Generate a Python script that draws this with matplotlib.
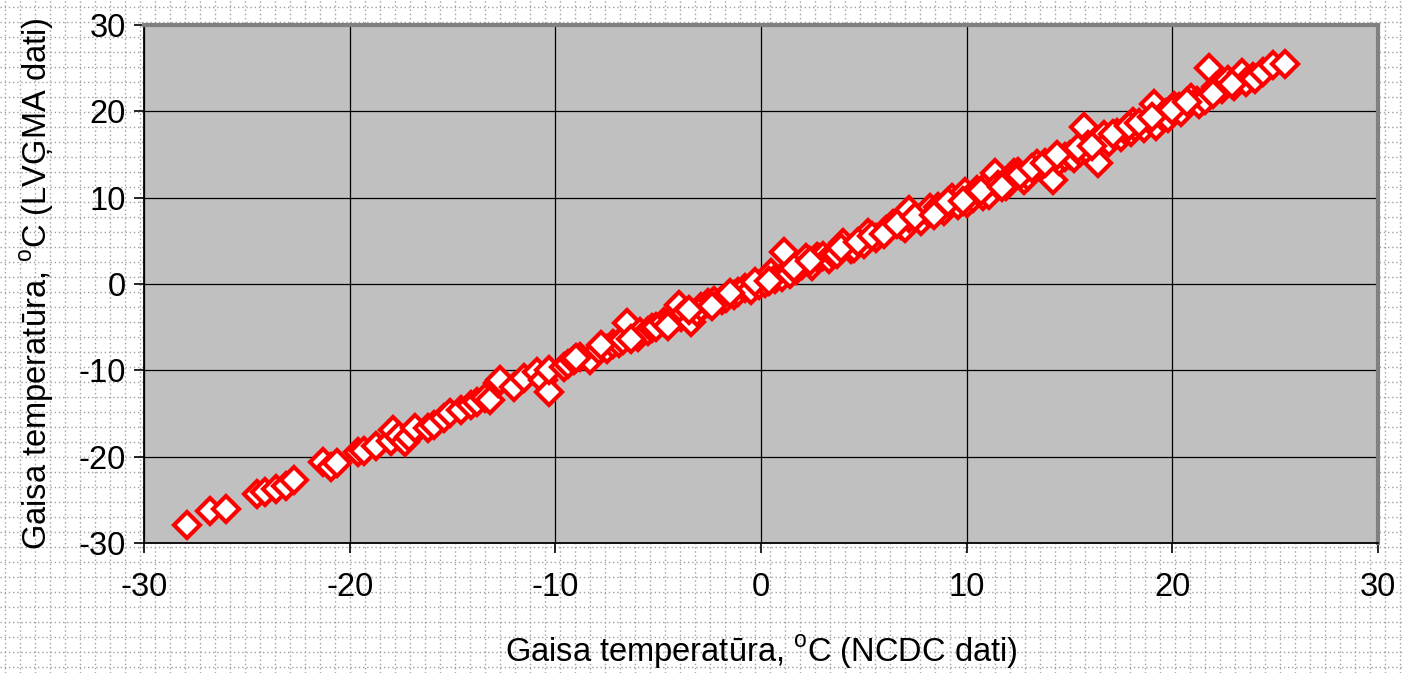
import matplotlib
matplotlib.use('Agg')
import matplotlib.pyplot as plt
import numpy as np

plt.rcParams['font.family'] = ['Liberation Sans', 'DejaVu Sans']
plt.rcParams['mathtext.fontset'] = 'custom'
plt.rcParams['mathtext.rm'] = 'Liberation Sans'
plt.rcParams['axes.unicode_minus'] = False

# NCDC (x) vs LVGMA (y) air temperature
ncdc = [-27.9, -26.8, -26.0, -24.5, -24.1, -23.6, -23.1, -22.7, -21.3, -20.9,
        -20.6, -19.6, -19.3, -18.7, -18.0, -17.9, -17.6, -17.3, -17.1, -16.8,
        -16.2, -15.9, -15.4, -15.1, -14.6, -14.1, -13.8, -13.4, -13.2, -12.8,
        -12.7, -12.0, -11.5, -10.9, -10.6, -10.3, -10.3, -9.6, -9.4, -9.1,
        -8.8, -8.3, -7.9, -7.5, -7.2, -6.9, -6.7, -6.5, -6.0, -5.9,
        -5.5, -5.3, -5.1, -4.7, -4.3, -4.0, -3.9, -3.7, -3.4, -3.1,
        -2.9, -2.6, -2.3, -1.9, -1.7, -1.3, -1.1, -0.8, -0.5, -0.1,
        0.2, 0.5, 0.7, 1.0, 1.1, 1.4, 1.7, 2.0, 2.2, 2.5,
        2.7, 2.8, 3.0, 3.3, 3.5, 3.7, 4.0, 4.4, 4.5, 4.9,
        5.0, 5.2, 5.6, 6.1, 6.4, 6.8, 7.0, 7.2, 7.2, 7.8,
        8.1, 8.2, 8.6, 8.9, 9.3, 9.6, 9.9, 10.0, 10.3, 10.5,
        10.8, 11.1, 11.2, 11.4, 11.5, 11.9, 12.1, 12.3, 12.5, 12.8,
        13.0, 13.4, 13.7, 14.1, 14.2, 14.5, 14.8, 15.0, 15.2, 15.5,
        15.7, 15.9, 15.9, 16.3, 16.4, 16.7, 16.9, 17.3, 17.5, 17.7,
        18.0, 18.1, 18.2, 18.6, 18.9, 19.1, 19.2, 19.5, 19.7, 19.8,
        20.1, 20.3, 20.4, 20.9, 21.2, 21.3, 21.6, 21.8, 22.1, 22.4,
        22.7, 23.0, 23.4, 23.6, 23.9, 24.0, 24.4, 24.9, 25.5,
        # extra points filling the dense band
        -9.0, -7.8, -6.3, -4.5, -3.5, -2.4, -1.5, -0.3, 0.4, 1.6,
        2.4, 3.9, 4.7, 5.4, 6.0, 6.6, 7.5, 8.4, 9.1, 9.8,
        10.7, 11.7, 12.6, 13.2, 13.8, 14.4, 15.4, 16.1, 17.1, 17.9,
        18.4, 19.0, 20.0, 20.7, 22.0, 22.9]
lvgma = [-27.9, -26.3, -26.1, -24.3, -24.1, -23.8, -23.4, -22.7, -20.6, -21.2,
         -20.7, -19.5, -19.3, -18.8, -18.2, -16.9, -17.6, -18.3, -17.7, -16.7,
         -16.7, -16.3, -15.5, -14.9, -14.6, -14.0, -13.7, -13.2, -13.4, -11.5,
         -11.1, -11.9, -10.9, -10.2, -11.1, -12.5, -10.0, -9.6, -9.3, -8.8,
         -8.4, -8.8, -7.6, -7.5, -6.9, -6.8, -6.5, -4.5, -6.1, -5.6,
         -5.5, -5.1, -5.0, -4.4, -3.9, -2.4, -3.8, -3.4, -4.4, -3.2,
         -2.7, -2.2, -2.0, -1.8, -1.6, -1.3, -0.9, -0.5, -0.7, -0.1,
         0.1, 1.3, 0.6, 0.8, 3.7, 1.2, 1.6, 2.2, 3.0, 2.1,
         3.1, 3.0, 3.2, 2.9, 3.5, 3.5, 4.8, 4.1, 4.2, 5.1,
         4.6, 5.9, 5.3, 6.3, 6.9, 6.8, 6.5, 7.6, 8.6, 7.3,
         8.3, 8.8, 8.9, 8.4, 10.0, 9.2, 10.7, 9.4, 10.0, 10.9,
         10.2, 10.3, 11.9, 12.9, 11.5, 11.3, 12.3, 12.9, 13.0, 12.1,
         12.5, 13.9, 13.6, 13.6, 12.1, 14.2, 14.7, 15.0, 14.6, 15.3,
         18.2, 16.1, 15.4, 16.6, 14.0, 17.3, 16.4, 17.5, 17.0, 17.8,
         17.6, 18.8, 18.2, 18.1, 19.0, 20.8, 18.3, 19.5, 19.8, 19.2,
         20.6, 20.5, 19.9, 21.6, 21.2, 20.9, 21.3, 25.0, 22.8, 22.6,
         23.6, 22.9, 24.4, 23.4, 24.0, 23.7, 24.6, 25.4, 25.5,
         -8.6, -7.1, -6.4, -4.9, -3.0, -2.6, -1.0, 0.2, 0.3, 1.9,
         2.7, 4.2, 4.9, 5.6, 5.8, 7.0, 7.8, 8.0, 9.5, 9.6,
         10.8, 11.2, 12.6, 13.4, 14.0, 14.9, 15.8, 16.0, 17.4, 18.3,
         18.7, 19.3, 20.2, 21.1, 22.0, 23.2]

ticks = [-30, -20, -10, 0, 10, 20, 30]

fig = plt.figure(figsize=(14.02, 6.73), dpi=100)

# graph-paper style dotted background
bg = fig.add_axes([0, 0, 1, 1], zorder=0)
bg.set_xlim(0, 1402)
bg.set_ylim(673, 0)
bg.axis('off')
for gx in np.arange(5, 1402, 15):
    bg.axvline(gx, color='#a0a0a0', lw=1, ls=(0, (1, 2)))
for gy in np.arange(7, 673, 15):
    bg.axhline(gy, color='#a0a0a0', lw=1, ls=(0, (1, 2)))

ax = fig.add_axes([144/1402, 1 - 543/673, (1378 - 144)/1402, (543 - 25)/673], zorder=1)
ax.set_facecolor('#c0c0c0')
ax.plot(ncdc, lvgma, 'D', ms=13, mfc='white', mec='#ff0000', mew=3,
        linestyle='none', clip_on=False, zorder=3)

ax.set_xlim(-30, 30)
ax.set_ylim(-30, 30)
ax.set_xticks(ticks)
ax.set_yticks(ticks)
ax.grid(True, color='#000000', lw=0.9)
ax.set_axisbelow(True)
ax.tick_params(axis='both', direction='out', length=7, width=1.2, labelsize=23.5, color='black')
ax.tick_params(axis='x', pad=14)
ax.tick_params(axis='y', pad=6)
for s in ['top', 'right']:
    ax.spines[s].set_color('#808080')
    ax.spines[s].set_linewidth(3)
for s in ['left', 'bottom']:
    ax.spines[s].set_color('black')
    ax.spines[s].set_linewidth(1.3)

ax.set_xlabel(r'Gaisa temperatūra, $^{\mathrm{o}}$C (NCDC dati)', fontsize=23.5, labelpad=22)
ax.set_ylabel(r'Gaisa temperatūra, $^{\mathrm{o}}$C (LVĢMA dati)', fontsize=23.5, labelpad=16)

plt.savefig('out.png', dpi=100)
